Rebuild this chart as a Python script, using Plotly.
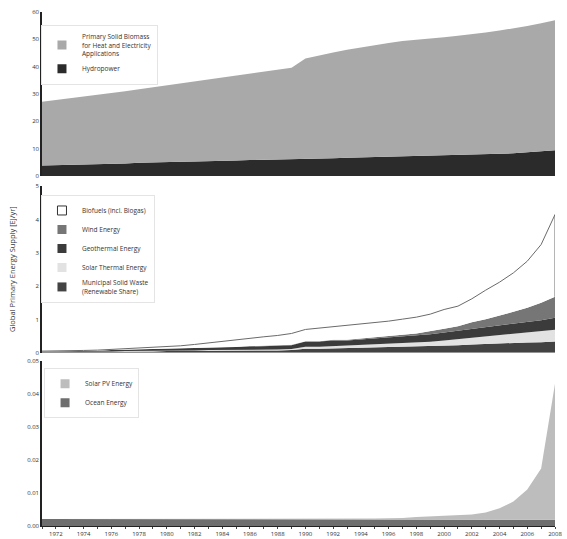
import plotly.graph_objects as go

years = list(range(1971, 2009))

# Panel 1: large renewable sources [EJ/yr]
hydropower = [3.8, 3.9, 4.1, 4.3, 4.4, 4.5, 4.6, 4.8, 5.0, 5.1,
              5.2, 5.3, 5.5, 5.6, 5.7, 5.8, 5.9, 6.0, 6.0, 6.2,
              6.4, 6.5, 6.7, 6.8, 7.0, 7.1, 7.3, 7.3, 7.4, 7.6,
              7.6, 7.7, 7.8, 8.1, 8.3, 8.7, 9.0, 9.4]
solid_biomass = [23.4, 23.9, 24.3, 24.7, 25.2, 25.8, 26.4, 26.9, 27.4, 28.0,
                 28.6, 29.2, 29.7, 30.3, 30.9, 31.5, 32.1, 32.8, 33.6, 36.8,
                 37.8, 38.7, 39.5, 40.3, 41.0, 41.6, 42.1, 42.5, 42.9, 43.2,
                 43.7, 44.1, 44.7, 45.1, 45.7, 46.2, 46.9, 47.6]

# Panel 2: medium renewable sources [EJ/yr]
msw = [0.02, 0.02, 0.02, 0.03, 0.03, 0.03, 0.04, 0.04, 0.04, 0.05,
       0.05, 0.05, 0.06, 0.06, 0.06, 0.07, 0.07, 0.07, 0.08, 0.12,
       0.12, 0.13, 0.13, 0.14, 0.15, 0.16, 0.17, 0.18, 0.19, 0.21,
       0.23, 0.25, 0.27, 0.28, 0.29, 0.31, 0.32, 0.34]
solar_thermal = [0.00, 0.00, 0.00, 0.00, 0.00, 0.01, 0.01, 0.01, 0.01, 0.01,
                 0.01, 0.02, 0.02, 0.02, 0.02, 0.02, 0.03, 0.03, 0.03, 0.06,
                 0.06, 0.07, 0.07, 0.08, 0.09, 0.10, 0.11, 0.12, 0.14, 0.16,
                 0.18, 0.21, 0.23, 0.25, 0.27, 0.29, 0.32, 0.35]
geothermal = [0.02, 0.02, 0.03, 0.03, 0.03, 0.04, 0.04, 0.04, 0.05, 0.05,
              0.06, 0.06, 0.07, 0.08, 0.09, 0.10, 0.10, 0.11, 0.12, 0.16,
              0.16, 0.17, 0.17, 0.18, 0.19, 0.20, 0.21, 0.22, 0.23, 0.24,
              0.25, 0.27, 0.28, 0.29, 0.31, 0.32, 0.34, 0.36]
wind = [0.00, 0.00, 0.00, 0.00, 0.00, 0.00, 0.00, 0.00, 0.00, 0.00,
        0.00, 0.00, 0.00, 0.00, 0.00, 0.01, 0.01, 0.01, 0.01, 0.01,
        0.01, 0.02, 0.02, 0.03, 0.03, 0.04, 0.05, 0.06, 0.08, 0.11,
        0.14, 0.19, 0.23, 0.29, 0.36, 0.43, 0.52, 0.63]
biofuels = [0.01, 0.01, 0.01, 0.01, 0.02, 0.02, 0.03, 0.04, 0.05, 0.07,
            0.09, 0.12, 0.15, 0.19, 0.22, 0.24, 0.27, 0.30, 0.34, 0.35,
            0.39, 0.39, 0.42, 0.42, 0.44, 0.45, 0.47, 0.49, 0.52, 0.58,
            0.60, 0.70, 0.87, 1.01, 1.17, 1.40, 1.75, 2.47]

# Panel 3: small renewable sources [EJ/yr]
ocean = [0.0021, 0.0021, 0.0021, 0.0021, 0.0021, 0.0021, 0.0021, 0.0021, 0.0021, 0.0021,
         0.0021, 0.0021, 0.0021, 0.0021, 0.0021, 0.0021, 0.0021, 0.0021, 0.0019, 0.0019,
         0.0019, 0.0019, 0.0019, 0.0019, 0.0019, 0.0019, 0.0019, 0.0019, 0.0019, 0.0019,
         0.0019, 0.0019, 0.0019, 0.0019, 0.0019, 0.0019, 0.0019, 0.0019]
solar_pv = [0.0, 0.0, 0.0, 0.0, 0.0, 0.0, 0.0, 0.0, 0.0, 0.0,
            0.0, 0.0, 0.00005, 0.00007, 0.0001, 0.00012, 0.00014, 0.00016, 0.00018, 0.0002,
            0.00024, 0.00028, 0.00032, 0.00036, 0.0004, 0.00045, 0.0005, 0.0008, 0.001, 0.0011,
            0.0013, 0.0016, 0.0022, 0.0035, 0.0055, 0.0092, 0.0155, 0.0412]

FONT = "Open Sans"
fig = go.Figure()


def area(y, color, xa, ya, group):
    fig.add_trace(go.Scatter(
        x=years, y=y, mode="lines", stackgroup=group, fillcolor=color,
        line=dict(width=0, color=color), xaxis=xa, yaxis=ya,
        showlegend=False, hoverinfo="skip"))


def legend_key(name, color, legend, edge=None):
    fig.add_trace(go.Scatter(
        x=[None], y=[None], mode="markers", name=name, legend=legend,
        marker=dict(symbol="square", size=9, color=color,
                    line=dict(width=1 if edge else 0, color=edge or color))))


# Panel 1
area(hydropower, "#2b2b2b", "x", "y", "p1")
area(solid_biomass, "#a9a9a9", "x", "y", "p1")

# Panel 2
area(msw, "#434343", "x2", "y2", "p2")
area(solar_thermal, "#e2e2e2", "x2", "y2", "p2")
area(geothermal, "#3b3b3b", "x2", "y2", "p2")
area(wind, "#767676", "x2", "y2", "p2")
fig.add_trace(go.Scatter(
    x=years, y=biofuels, mode="lines", stackgroup="p2", fillcolor="#ffffff",
    line=dict(width=1, color="#6a6a6a"), xaxis="x2", yaxis="y2",
    showlegend=False, hoverinfo="skip"))
# closing edge of the biofuels band at the last year
lower_end = msw[-1] + solar_thermal[-1] + geothermal[-1] + wind[-1]
fig.add_trace(go.Scatter(
    x=[years[-1], years[-1]], y=[lower_end, lower_end + biofuels[-1]],
    mode="lines", line=dict(width=1, color="#6a6a6a"),
    xaxis="x2", yaxis="y2", showlegend=False, hoverinfo="skip"))

# Panel 3
area(ocean, "#6e6e6e", "x3", "y3", "p3")
area(solar_pv, "#bdbdbd", "x3", "y3", "p3")

# Legend keys
legend_key("Primary Solid Biomass<br>for Heat and Electricity<br>Applications", "#a9a9a9", "legend")
legend_key("Hydropower", "#2b2b2b", "legend")
legend_key("Biofuels (incl. Biogas)", "#ffffff", "legend2", edge="#333333")
legend_key("Wind Energy", "#767676", "legend2")
legend_key("Geothermal Energy", "#3b3b3b", "legend2")
legend_key("Solar Thermal Energy", "#e2e2e2", "legend2")
legend_key("Municipal Solid Waste<br>(Renewable Share)", "#434343", "legend2")
legend_key("Solar PV Energy", "#bdbdbd", "legend3")
legend_key("Ocean Energy", "#6e6e6e", "legend3")

legend_style = dict(
    font=dict(family=FONT, size=6.5, color="#333333"),
    bgcolor="rgba(255,255,255,0)", bordercolor="#e4e4e4", borderwidth=1,
    xanchor="left", yanchor="top", itemwidth=30, traceorder="normal")

tick_font = dict(family=FONT, size=6, color="#333333")
yax = dict(showgrid=False, zeroline=False, showline=True, linecolor="#222222",
           linewidth=1.5, ticks="", tickfont=tick_font, automargin=False)
xax_hidden = dict(range=[1971, 2008], showgrid=False, zeroline=False,
                  showline=False, showticklabels=False, ticks="", automargin=False)

fig.update_layout(
    width=567, height=539,
    margin=dict(l=42, r=12, t=12, b=13),
    paper_bgcolor="white", plot_bgcolor="white",
    font=dict(family=FONT, color="#333333"),
    xaxis=dict(domain=[0, 1], anchor="y", **xax_hidden),
    xaxis2=dict(domain=[0, 1], anchor="y2", **xax_hidden),
    xaxis3=dict(domain=[0, 1], anchor="y3", range=[1971, 2008], automargin=False,
                showgrid=False, zeroline=False, showline=True,
                linecolor="#222222", linewidth=1,
                tick0=1972, dtick=2, ticks="outside", ticklen=2,
                tickcolor="#444444", tickfont=tick_font, ticklabelstandoff=0,
                minor=dict(dtick=1, ticks="outside", ticklen=2,
                           tickcolor="#444444")),
    yaxis=dict(domain=[0.681, 1.0], range=[0, 60], tickvals=[0, 10, 20, 30, 40, 50, 60],
               anchor="x", **yax),
    yaxis2=dict(domain=[0.337, 0.661], range=[0, 5], tickvals=[0, 1, 2, 3, 4, 5],
                anchor="x2", **yax),
    yaxis3=dict(domain=[0, 0.321], range=[0, 0.05],
                tickvals=[0, 0.01, 0.02, 0.03, 0.04, 0.05],
                ticktext=["0.00", "0.01", "0.02", "0.03", "0.04", "0.05"],
                anchor="x3", **yax),
    legend=dict(x=-0.002, y=0.975, **legend_style),
    legend2=dict(x=-0.002, y=0.644, **legend_style),
    legend3=dict(x=0.004, y=0.307, **legend_style),
    annotations=[dict(
        text="Global Primary Energy Supply [EJ/yr]", textangle=-90,
        xref="paper", yref="paper", x=-0.0585, y=0.5,
        xanchor="center", yanchor="middle",
        showarrow=False, font=dict(family=FONT, size=7.5, color="#333333"))],
)

fig.write_html("out.html")
